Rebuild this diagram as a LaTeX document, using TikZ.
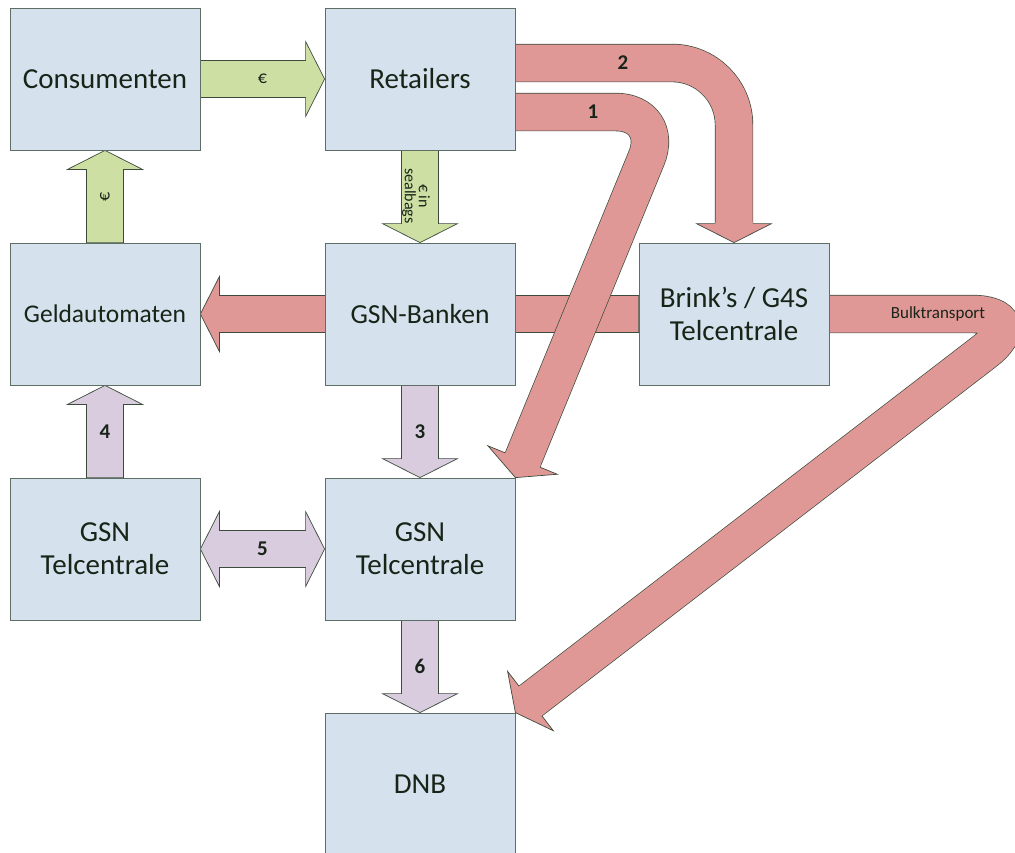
\documentclass[tikz,border=0pt]{standalone}
\usepackage{fontspec}
\setmainfont{Carlito}
\usetikzlibrary{calc,backgrounds}

\definecolor{boxfill}{RGB}{213,225,236}
\definecolor{boxedge}{RGB}{95,110,100}
\definecolor{greenfill}{RGB}{206,223,164}
\definecolor{redfill}{RGB}{224,152,150}
\definecolor{purplefill}{RGB}{216,204,222}
\definecolor{arrowedge}{RGB}{60,75,60}
\definecolor{labeltext}{RGB}{25,36,25}

% straight block arrow: style, from, tip
\newcommand{\blockarrow}[3]{%
    \coordinate (ba-s) at (#2);
    \coordinate (ba-t) at (#3);
    \coordinate (ba-h) at ($(ba-t)!19pt!(ba-s)$);
    \draw[#1] ($(ba-s)!18.5pt!90:(ba-t)$) -- ($(ba-h)!18.5pt!90:(ba-t)$) -- ($(ba-h)!37.5pt!90:(ba-t)$) -- (ba-t)
        -- ($(ba-h)!37.5pt!-90:(ba-t)$) -- ($(ba-h)!18.5pt!-90:(ba-t)$) -- ($(ba-s)!18.5pt!-90:(ba-t)$) -- cycle;
}
% block arrow with two heads: style, tip, tip
\newcommand{\dblockarrow}[3]{%
    \coordinate (da-a) at (#2);
    \coordinate (da-b) at (#3);
    \coordinate (da-ha) at ($(da-a)!19pt!(da-b)$);
    \coordinate (da-hb) at ($(da-b)!19pt!(da-a)$);
    \draw[#1] (da-a) -- ($(da-ha)!37.5pt!90:(da-b)$) -- ($(da-ha)!18.5pt!90:(da-b)$) -- ($(da-hb)!18.5pt!-90:(da-a)$)
        -- ($(da-hb)!37.5pt!-90:(da-a)$) -- (da-b) -- ($(da-hb)!37.5pt!90:(da-a)$) -- ($(da-hb)!18.5pt!90:(da-a)$)
        -- ($(da-ha)!18.5pt!-90:(da-b)$) -- ($(da-ha)!37.5pt!-90:(da-b)$) -- cycle;
}
% bent block arrow: colour, start, turn, tip, radius
\newcommand{\bentarrow}[5]{%
    \coordinate (ba-h) at ($(#4)!19pt!(#3)$);
    \coordinate (ba-b) at ($(#4)!21pt!(#3)$);
    \draw[draw=arrowedge, line width=0.7pt, double=#1, double distance=37pt, rounded corners=#5] (#2) -- (#3) -- (ba-h);
    \fill[#1] ($(ba-b)!18.5pt!90:(#4)$) -- ($(ba-h)!18.5pt!90:(#4)$) -- ($(ba-h)!37.5pt!90:(#4)$) -- (#4)
        -- ($(ba-h)!37.5pt!-90:(#4)$) -- ($(ba-h)!18.5pt!-90:(#4)$) -- ($(ba-b)!18.5pt!-90:(#4)$) -- cycle;
    \draw[draw=arrowedge, line width=0.7pt] ($(ba-h)!18.85pt!90:(#4)$) -- ($(ba-h)!37.5pt!90:(#4)$) -- (#4)
        -- ($(ba-h)!37.5pt!-90:(#4)$) -- ($(ba-h)!18.85pt!-90:(#4)$);
}

\begin{document}
\begin{tikzpicture}[x=1pt,y=-1pt,
    box/.style={draw=boxedge, line width=0.8pt, fill=boxfill, minimum width=190pt, minimum height=142pt,
        align=center, text=labeltext, font=\fontsize{29}{33}\selectfont},
    greenarrow/.style={fill=greenfill, draw=arrowedge, line width=0.7pt},
    redarrow/.style={fill=redfill, draw=arrowedge, line width=0.7pt},
    purplearrow/.style={fill=purplefill, draw=arrowedge, line width=0.7pt},
    numlabel/.style={text=labeltext, font=\bfseries\fontsize{21}{24}\selectfont},
    eurolabel/.style={text=labeltext, font=\fontsize{18}{20}\selectfont},
    baglabel/.style={text=labeltext, align=center, font=\fontsize{16}{14}\selectfont},
    bulklabel/.style={text=labeltext, font=\fontsize{17}{20}\selectfont}]
    \useasboundingbox (0,0) rectangle (1015,852);

    \node[box] (cons) at (105,79) {Consumenten};
    \node[box] (ret) at (420,79) {Retailers};
    \node[box, font=\fontsize{25.5}{30}\selectfont] (geld) at (105,314) {Geldautomaten};
    \node[box, font=\fontsize{27.6}{32}\selectfont] (banken) at (420,314) {GSN-Banken};
    \node[box] (brinks) at (734,314) {Brink’s / G4S\\Telcentrale};
    \node[box] (gsnl) at (105,549) {GSN\\Telcentrale};
    \node[box] (gsnm) at (420,549) {GSN\\Telcentrale};
    \node[box] (dnb) at (420,784) {DNB};

    \coordinate (r1start) at ($(ret.east)+(0,33)$);
    \coordinate (r1turn) at ($(ret.east)+(150,33)$);
    \coordinate (r2start) at ($(ret.east)+(0,-16)$);
    \coordinate (r2turn) at (brinks.north |- r2start);
    \coordinate (bulkturn) at ($(brinks.east)+(204,0)$);

    \begin{pgfonlayer}{background}
    \blockarrow{redarrow}{brinks.west}{geld.east}
    \bentarrow{redfill}{r1start}{r1turn}{gsnm.north east}{50pt}
    \bentarrow{redfill}{r2start}{r2turn}{brinks.north}{62pt}
    \bentarrow{redfill}{brinks.east}{bulkturn}{dnb.north east}{62pt}
    \blockarrow{greenarrow}{cons.east}{ret.west}
    \blockarrow{greenarrow}{geld.north}{cons.south}
    \blockarrow{greenarrow}{ret.south}{banken.north}
    \blockarrow{purplearrow}{banken.south}{gsnm.north}
    \blockarrow{purplearrow}{gsnl.north}{geld.south}
    \blockarrow{purplearrow}{gsnm.south}{dnb.north}
    \dblockarrow{purplearrow}{gsnl.east}{gsnm.west}
    \end{pgfonlayer}

    \node[eurolabel] (eur1) at ($(cons.east)!0.5!(ret.west)$) {€};
    \node[eurolabel, rotate=90] (eur2) at ($(geld.north)!0.5!(cons.south)$) {€};
    \node[baglabel, rotate=-90] (bags) at (416,196) {€ in\\sealbags};
    \node[numlabel] (n1) at (593,112) {1};
    \node[numlabel] (n2) at (623,63) {2};
    \node[numlabel] (n3) at ($(banken.south)!0.5!(gsnm.north)$) {3};
    \node[numlabel] (n4) at ($(gsnl.north)!0.5!(geld.south)$) {4};
    \node[numlabel] (n5) at ($(gsnl.east)!0.5!(gsnm.west)$) {5};
    \node[numlabel] (n6) at ($(gsnm.south)!0.5!(dnb.north)$) {6};
    \node[bulklabel] (bulk) at (938,314) {Bulktransport};
\end{tikzpicture}
\end{document}
